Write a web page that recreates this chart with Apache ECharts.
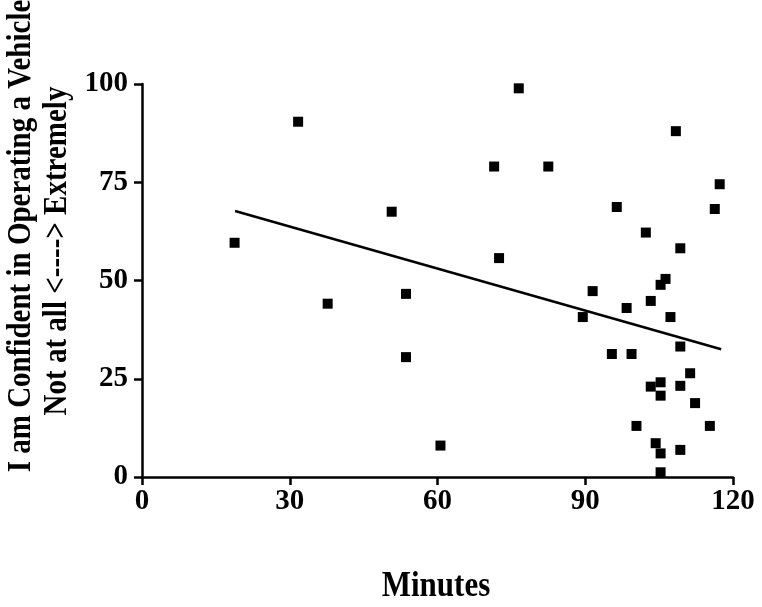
<!DOCTYPE html>
<html>
<head>
<meta charset="utf-8">
<script src="https://cdn.jsdelivr.net/npm/echarts@6/dist/echarts.min.js"></script>
<style>html,body{margin:0;padding:0;background:#fff;}#c{width:762px;height:607px;}</style>
</head>
<body>
<div id="c"></div>
<script>
// Data
var minutes = [18.8, 31.7, 50.7, 37.7, 53.6, 53.6, 60.6, 76.5, 108.4, 71.5, 82.5, 117.3, 116.3, 96.4, 102.3, 109.3, 72.5, 106.3, 105.3, 91.5, 103.3, 98.4, 89.5, 107.3, 109.3, 95.4, 99.4, 111.3, 105.3, 103.3, 109.3, 105.3, 112.3, 100.4, 115.3, 104.3, 105.3, 109.3, 105.3];
var confidence = [59.6, 90.4, 67.5, 44.1, 46.6, 30.5, 8.0, 98.9, 88.0, 79.0, 79.0, 74.5, 68.2, 68.7, 62.2, 58.2, 55.7, 50.4, 48.9, 47.3, 44.8, 43.0, 40.7, 40.7, 33.2, 31.3, 31.3, 26.4, 24.1, 23.0, 23.2, 20.7, 18.8, 13.0, 13.0, 8.6, 6.0, 6.9, 1.2];
var fitX = [18.9, 117.6];
var fitY = [67.7, 32.5];
var xTicks = [0, 30, 60, 90, 120];
var yTicks = [0, 25, 50, 75, 100];
var xTitle = 'Minutes';
var yTitle1 = 'I am Confident in Operating a Vehicle';
var yTitle2 = 'Not at all <----> Extremely';

var FONT = '"Liberation Serif", "Times New Roman", serif';
var chart = echarts.init(document.getElementById('c'), null, {renderer: 'canvas'});
var pts = minutes.map(function (m, i) { return [m, confidence[i]]; });
var fit = fitX.map(function (x, i) { return [x, fitY[i]]; });
var axisCommon = {
  axisLine: {show: true, lineStyle: {color: '#000', width: 2.5}},
  axisTick: {show: true, inside: false, length: 8, lineStyle: {color: '#000', width: 2.5}},
  splitLine: {show: false},
  axisLabel: {color: '#000', fontFamily: FONT, fontWeight: 'bold', fontSize: 29}
};
chart.setOption({
  animation: false,
  backgroundColor: '#fff',
  grid: {left: 142, right: 29, top: 84, bottom: 130, containLabel: false},
  xAxis: Object.assign({}, axisCommon, {
    type: 'value', min: xTicks[0], max: xTicks[xTicks.length - 1], interval: 30,
    axisLabel: Object.assign({}, axisCommon.axisLabel, {margin: 10})
  }),
  yAxis: Object.assign({}, axisCommon, {
    type: 'value', min: yTicks[0], max: yTicks[yTicks.length - 1], interval: 25,
    axisLabel: Object.assign({}, axisCommon.axisLabel, {margin: 14})
  }),
  graphic: [
    {type: 'text', x: 436, y: 587, scaleY: 1.17,
     style: {text: xTitle, font: 'bold 31px ' + FONT, fill: '#000', textAlign: 'center', textVerticalAlign: 'middle'}},
    {type: 'text', x: 21, y: 236, rotation: Math.PI / 2, scaleY: 1.15,
     style: {text: yTitle1, font: 'bold 29px ' + FONT, fill: '#000', textAlign: 'center', textVerticalAlign: 'middle'}},
    {type: 'text', x: 57, y: 251, rotation: Math.PI / 2, scaleY: 1.15,
     style: {text: yTitle2, font: 'bold 29px ' + FONT, fill: '#000', textAlign: 'center', textVerticalAlign: 'middle'}}
  ],
  series: [
    {type: 'scatter', data: pts, symbol: 'rect', symbolSize: 10, itemStyle: {color: '#000', opacity: 1}, z: 3},
    {type: 'line', data: fit, symbol: 'none', lineStyle: {color: '#000', width: 2.5}, z: 2}
  ]
});
</script>
</body>
</html>
